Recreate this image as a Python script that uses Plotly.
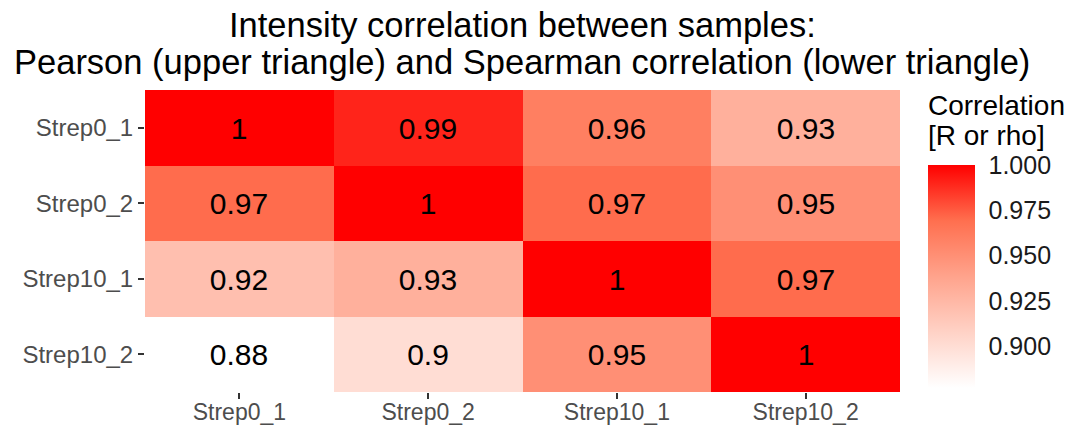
import plotly.graph_objects as go

samples = ["Strep0_1", "Strep0_2", "Strep10_1", "Strep10_2"]
# rows (top to bottom) x columns (left to right)
row_0_1 = [1.0, 0.99, 0.96, 0.93]
row_0_2 = [0.97, 1.0, 0.97, 0.95]
row_10_1 = [0.92, 0.93, 1.0, 0.97]
row_10_2 = [0.877, 0.90, 0.95, 1.0]
z = [row_0_1, row_0_2, row_10_1, row_10_2]
labels = [[f"{round(v, 2):g}" for v in r] for r in z]
cbar_ticks = [0.900, 0.925, 0.950, 0.975, 1.000]
title_lines = ["Intensity correlation between samples:",
               "Pearson (upper triangle) and Spearman correlation (lower triangle)"]
legend_title_lines = ["Correlation", "[R or rho]"]

OFF = 8  # page body margin of the browser
W, H = 1066, 420
L, T = 145 - OFF, 90 - OFF
pw, ph = 755, 302
R, B = W - L - pw, H - T - ph
FONT = "Liberation Sans"

def px_x(xs):
    return (xs - OFF - L) / pw

def px_y(ys):
    return (H - B - (ys - OFF)) / ph

fig = go.Figure(go.Heatmap(
    z=z, x=samples, y=samples, text=labels, texttemplate="%{text}",
    textfont=dict(size=30, color="black", family=FONT),
    zmin=0.8768, zmax=1.0,
    colorscale=[[0, "#FFFFFF"], [0.25, "#FFD2C6"], [0.5, "#FFA38C"], [0.75, "#FF6F4F"], [1, "#FF0000"]],
    xgap=0, ygap=0,
    colorbar=dict(
        x=px_x(928), xanchor="left", xpad=0,
        y=px_y(388), yanchor="bottom", ypad=0,
        len=(388 - 165) / ph, lenmode="fraction",
        thickness=47, outlinewidth=0,
        tickvals=cbar_ticks, ticktext=[f"{t:.3f}" for t in cbar_ticks],
        ticks="outside", ticklen=9, tickcolor="rgba(0,0,0,0)",
        tickfont=dict(size=25, color="#1A1A1A", family=FONT),
    ),
    hoverinfo="skip",
))

for i, line in enumerate(title_lines):
    fig.add_annotation(
        x=px_x(522), y=px_y(25 + 37 * i), xref="paper", yref="paper",
        xanchor="center", yanchor="middle", showarrow=False,
        text=line, font=dict(size=34.5, color="black", family=FONT),
    )

for i, line in enumerate(legend_title_lines):
    fig.add_annotation(
        x=px_x(926), y=px_y(105 + 30 * i), xref="paper", yref="paper",
        xanchor="left", yanchor="middle", showarrow=False,
        text=line, font=dict(size=28, color="black", family=FONT),
    )

fig.update_layout(
    width=W, height=H,
    margin=dict(l=L, r=R, t=T, b=B, autoexpand=False),
    paper_bgcolor="white", plot_bgcolor="white",
    font=dict(family=FONT),
    xaxis=dict(
        showgrid=False, zeroline=False, ticks="outside", ticklen=6, tickwidth=1.5,
        tickcolor="#333333", tickfont=dict(size=23, color="#4D4D4D"),
        ticklabelstandoff=-7,
        categoryorder="array", categoryarray=samples, automargin=False,
    ),
    yaxis=dict(
        showgrid=False, zeroline=False, ticks="outside", ticklen=6, tickwidth=1.5,
        tickcolor="#333333", tickfont=dict(size=24, color="#4D4D4D"),
        autorange="reversed", categoryorder="array", categoryarray=samples,
        automargin=False,
    ),
)

fig.write_html("out.html")
